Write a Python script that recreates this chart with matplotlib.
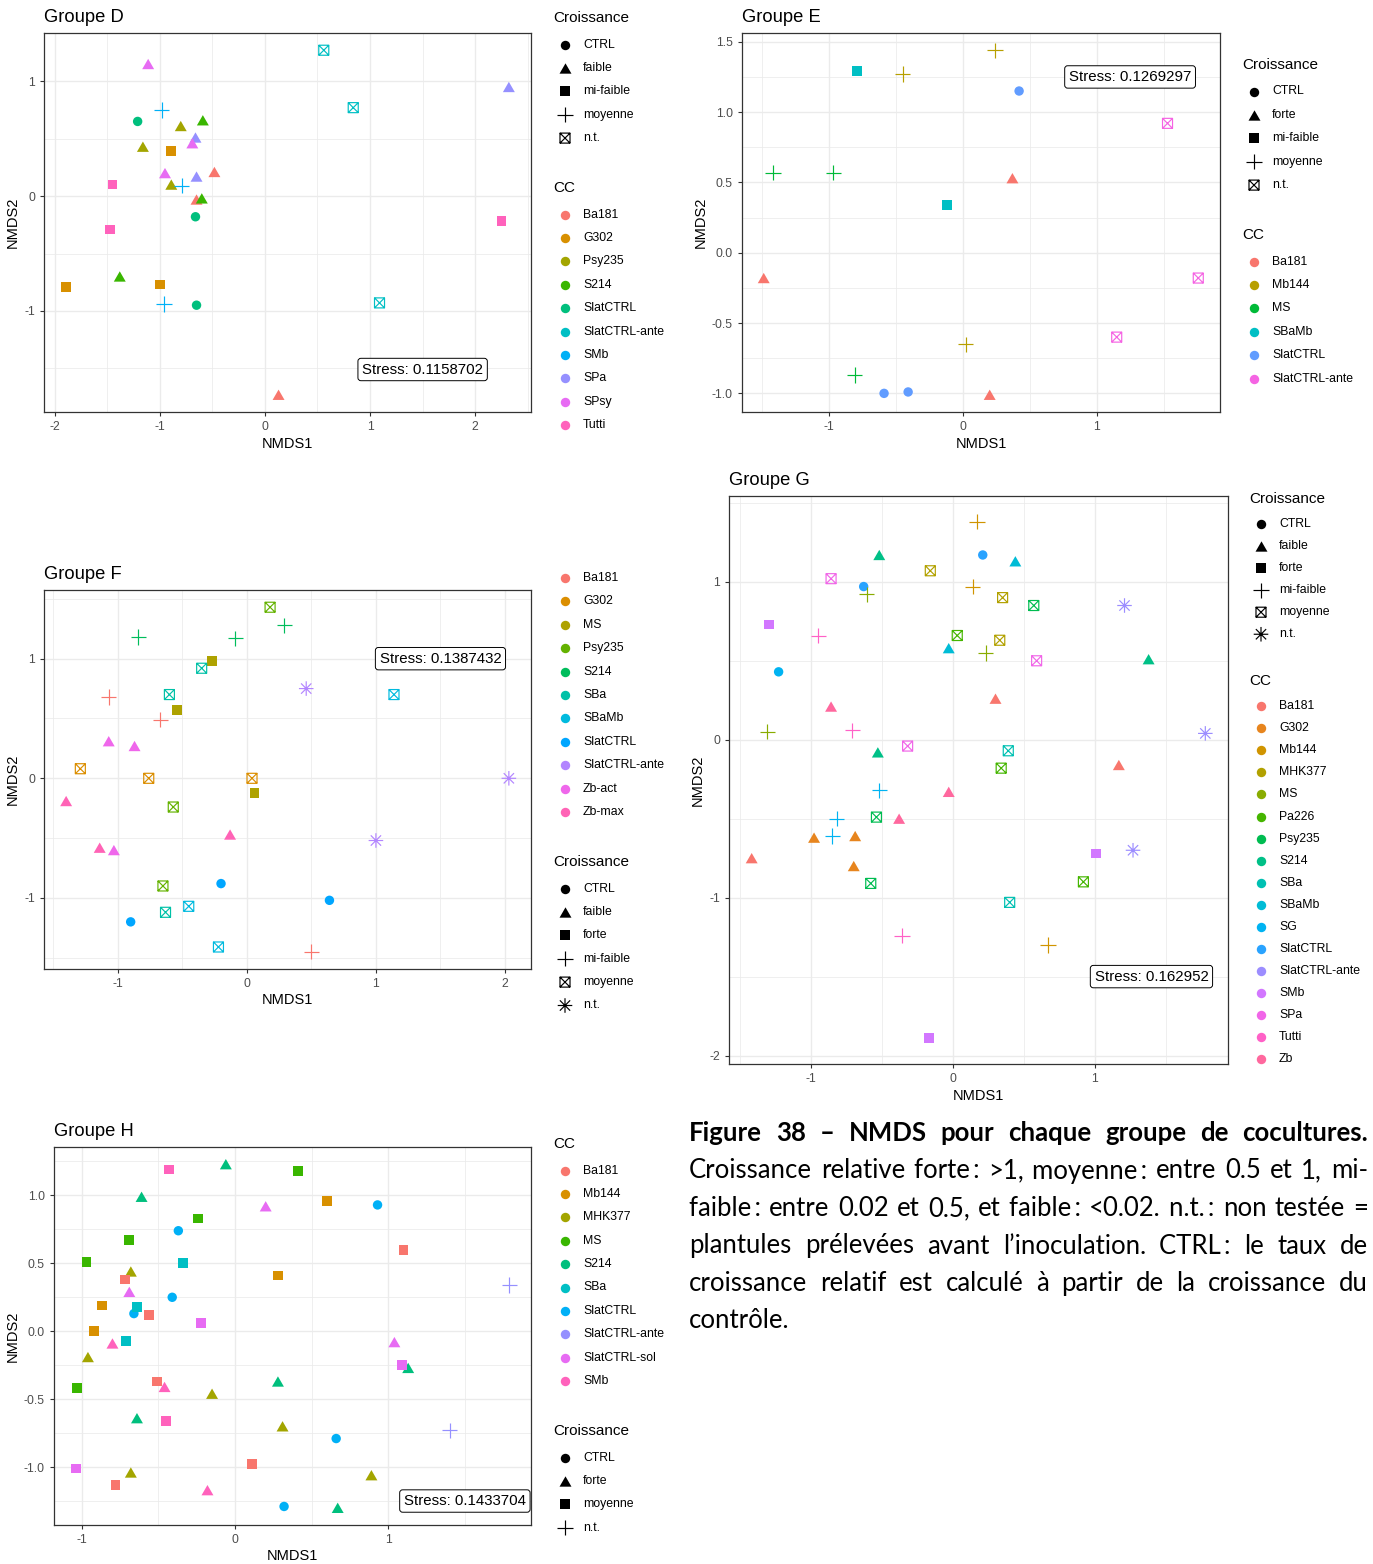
#!/usr/bin/env python
"""NMDS par groupe de cocultures (groupes D a H) + legende de la figure 38."""
import matplotlib

matplotlib.use("Agg")
import matplotlib.pyplot as plt
import numpy as np
from matplotlib.path import Path
from matplotlib.ticker import FormatStrFormatter, MultipleLocator

W, H = 1373, 1564
plt.rcParams["font.family"] = ["Liberation Sans", "DejaVu Sans"]
plt.rcParams["axes.unicode_minus"] = False

# ---------------- Groupe D ----------------
D_cc_levels = ["Ba181", "G302", "Psy235", "S214", "SlatCTRL", "SlatCTRL-ante", "SMb", "SPa", "SPsy", "Tutti"]
D_gr_levels = ["CTRL", "faible", "mi-faible", "moyenne", "n.t."]
D_x = [0.56, 0.84, 1.09, 2.32, -1.11, -0.98, -1.21, -0.80, -0.59, -0.66, -0.69, -1.16, -0.89, -0.95, -0.48,
       -0.65, -1.45, -0.89, -0.79, -0.65, -0.60, -0.66, -1.47, 2.25, -1.89, -1.38, -1.00, -0.96, -0.65, 0.13]
D_y = [1.27, 0.77, -0.93, 0.95, 1.15, 0.75, 0.65, 0.61, 0.66, 0.51, 0.46, 0.43, 0.39, 0.20, 0.21,
       0.17, 0.10, 0.10, 0.09, -0.03, -0.02, -0.18, -0.29, -0.22, -0.79, -0.70, -0.77, -0.94, -0.95, -1.73]
D_cc = ["SlatCTRL-ante", "SlatCTRL-ante", "SlatCTRL-ante", "SPa", "SPsy", "SMb", "SlatCTRL", "Psy235", "S214",
        "SPa", "SPsy", "Psy235", "G302", "SPsy", "Ba181", "SPa", "Tutti", "Psy235", "SMb", "Ba181", "S214",
        "SlatCTRL", "Tutti", "Tutti", "G302", "S214", "G302", "SMb", "SlatCTRL", "Ba181"]
D_gr = ["n.t.", "n.t.", "n.t.", "faible", "faible", "moyenne", "CTRL", "faible", "faible", "faible", "faible",
        "faible", "mi-faible", "faible", "faible", "faible", "mi-faible", "faible", "moyenne", "faible", "faible",
        "CTRL", "mi-faible", "mi-faible", "mi-faible", "faible", "mi-faible", "moyenne", "CTRL", "faible"]
D_stress = ("Stress: 0.1158702", 1.50, -1.51)

# ---------------- Groupe E ----------------
E_cc_levels = ["Ba181", "Mb144", "MS", "SBaMb", "SlatCTRL", "SlatCTRL-ante"]
E_gr_levels = ["CTRL", "forte", "mi-faible", "moyenne", "n.t."]
E_x = [0.24, -0.79, -0.45, 0.42, 1.53, -1.42, -0.97, 0.37, -0.12, -1.49, 1.76, 1.15, 0.02, -0.81, -0.59, -0.41, 0.20]
E_y = [1.44, 1.29, 1.27, 1.15, 0.92, 0.57, 0.57, 0.53, 0.34, -0.18, -0.18, -0.60, -0.65, -0.87, -1.00, -0.99, -1.01]
E_cc = ["Mb144", "SBaMb", "Mb144", "SlatCTRL", "SlatCTRL-ante", "MS", "MS", "Ba181", "SBaMb", "Ba181",
        "SlatCTRL-ante", "SlatCTRL-ante", "Mb144", "MS", "SlatCTRL", "SlatCTRL", "Ba181"]
E_gr = ["moyenne", "mi-faible", "moyenne", "CTRL", "n.t.", "moyenne", "moyenne", "forte", "mi-faible", "forte",
        "n.t.", "n.t.", "moyenne", "moyenne", "CTRL", "CTRL", "forte"]
E_stress = ("Stress: 0.1269297", 1.25, 1.25)

# ---------------- Groupe F ----------------
F_cc_levels = ["Ba181", "G302", "MS", "Psy235", "S214", "SBa", "SBaMb", "SlatCTRL", "SlatCTRL-ante", "Zb-act", "Zb-max"]
F_gr_levels = ["CTRL", "faible", "forte", "mi-faible", "moyenne", "n.t."]
F_x = [0.18, 0.29, -0.84, -0.09, -0.27, -0.35, 0.46, -0.60, 1.14, -1.07, -0.54, -0.67, -1.07, -0.87, -1.29, -0.76,
       0.04, 2.03, 0.06, -1.40, -0.57, -0.13, 1.00, -1.14, -1.03, -0.20, -0.65, 0.64, -0.45, -0.63, -0.90, -0.22, 0.50]
F_y = [1.43, 1.28, 1.18, 1.17, 0.98, 0.92, 0.75, 0.70, 0.70, 0.68, 0.57, 0.49, 0.31, 0.27, 0.08, 0.00,
       0.00, 0.00, -0.12, -0.19, -0.24, -0.47, -0.52, -0.58, -0.60, -0.88, -0.90, -1.02, -1.07, -1.12, -1.20, -1.41, -1.45]
F_cc = ["Psy235", "S214", "S214", "S214", "MS", "SBa", "SlatCTRL-ante", "SBa", "SBaMb", "Ba181", "MS", "Ba181",
        "Zb-act", "Zb-act", "G302", "G302", "G302", "SlatCTRL-ante", "MS", "Zb-max", "Psy235", "Zb-max",
        "SlatCTRL-ante", "Zb-max", "Zb-act", "SlatCTRL", "Psy235", "SlatCTRL", "SBaMb", "SBa", "SlatCTRL",
        "SBaMb", "Ba181"]
F_gr = ["moyenne", "mi-faible", "mi-faible", "mi-faible", "forte", "moyenne", "n.t.", "moyenne", "moyenne",
        "mi-faible", "forte", "mi-faible", "faible", "faible", "moyenne", "moyenne", "moyenne", "n.t.", "forte",
        "faible", "moyenne", "faible", "n.t.", "faible", "faible", "CTRL", "moyenne", "CTRL", "moyenne", "moyenne",
        "CTRL", "moyenne", "mi-faible"]
F_stress = ("Stress: 0.1387432", 1.50, 1.00)

# ---------------- Groupe G ----------------
G_cc_levels = ["Ba181", "G302", "Mb144", "MHK377", "MS", "Pa226", "Psy235", "S214", "SBa", "SBaMb", "SG",
               "SlatCTRL", "SlatCTRL-ante", "SMb", "SPa", "Tutti", "Zb"]
G_gr_levels = ["CTRL", "faible", "forte", "mi-faible", "moyenne", "n.t."]
G_x = [0.17, -0.52, 0.21, 0.44, -0.16, -0.86, -0.63, -0.61, 0.14, 0.35, 0.57, 1.21, -1.30, -0.95, 0.03, 0.33,
       -0.03, 0.23, 0.59, 1.38, -1.23, -0.86, 0.30, -1.31, -0.71, 1.78, -0.32, 0.39, -0.53, 0.34, 1.17, -0.52,
       -0.03, -0.54, -0.38, -0.82, -0.98, -0.85, -0.69, 1.01, 1.27, -1.42, -0.70, -0.58, 0.92, 0.40, -0.36,
       0.67, -0.17]
G_y = [1.38, 1.17, 1.17, 1.13, 1.07, 1.02, 0.97, 0.92, 0.97, 0.90, 0.85, 0.85, 0.73, 0.66, 0.66, 0.63,
       0.58, 0.55, 0.50, 0.51, 0.43, 0.21, 0.26, 0.05, 0.06, 0.04, -0.04, -0.07, -0.08, -0.18, -0.16, -0.32,
       -0.33, -0.49, -0.50, -0.50, -0.62, -0.61, -0.61, -0.72, -0.70, -0.75, -0.80, -0.91, -0.90, -1.03, -1.24,
       -1.30, -1.89]
G_cc = ["Mb144", "S214", "SlatCTRL", "SBaMb", "MHK377", "SPa", "SlatCTRL", "MS", "Mb144", "MHK377", "Psy235",
        "SlatCTRL-ante", "SMb", "Tutti", "Pa226", "MHK377", "SBaMb", "MS", "SPa", "S214", "SG", "Zb", "Ba181",
        "MS", "Tutti", "SlatCTRL-ante", "SPa", "SBa", "S214", "Pa226", "Ba181", "SG", "Zb", "Psy235", "Zb", "SG",
        "G302", "SG", "G302", "SMb", "SlatCTRL-ante", "Ba181", "G302", "Psy235", "Pa226", "SBa", "Tutti",
        "Mb144", "SMb"]
G_gr = ["mi-faible", "faible", "CTRL", "faible", "moyenne", "moyenne", "CTRL", "mi-faible", "mi-faible",
        "moyenne", "moyenne", "n.t.", "forte", "mi-faible", "moyenne", "moyenne", "faible", "mi-faible", "moyenne",
        "faible", "CTRL", "faible", "faible", "mi-faible", "mi-faible", "n.t.", "moyenne", "moyenne", "faible",
        "moyenne", "faible", "mi-faible", "faible", "moyenne", "faible", "mi-faible", "faible", "mi-faible",
        "faible", "forte", "n.t.", "faible", "faible", "moyenne", "moyenne", "moyenne", "mi-faible", "mi-faible",
        "forte"]
G_stress = ("Stress: 0.162952", 1.40, -1.50)

# ---------------- Groupe H ----------------
H_cc_levels = ["Ba181", "Mb144", "MHK377", "MS", "S214", "SBa", "SlatCTRL", "SlatCTRL-ante", "SlatCTRL-sol", "SMb"]
H_gr_levels = ["CTRL", "forte", "moyenne", "n.t."]
H_x = [-0.06, -0.43, 0.41, -0.61, 0.60, 0.20, 0.93, -0.24, -0.37, -0.69, 1.10, -0.97, -0.34, -0.68, 0.28, -0.72,
       1.79, -0.69, -0.41, -0.87, -0.64, -0.66, -0.56, -0.22, -0.92, -0.71, -0.80, 1.04, -0.96, 1.09, 1.13,
       -0.51, -0.46, 0.28, -1.03, -0.15, -0.64, -0.45, 0.31, 1.40, 0.66, 0.11, -1.04, -0.68, 0.89, -0.78,
       -0.18, 0.32, 0.67]
H_y = [1.23, 1.19, 1.18, 0.99, 0.96, 0.92, 0.93, 0.83, 0.74, 0.67, 0.60, 0.51, 0.50, 0.44, 0.41, 0.38,
       0.34, 0.29, 0.25, 0.19, 0.18, 0.13, 0.12, 0.06, 0.00, -0.07, -0.09, -0.08, -0.19, -0.25, -0.27,
       -0.37, -0.41, -0.37, -0.42, -0.46, -0.64, -0.66, -0.70, -0.73, -0.79, -0.98, -1.01, -1.04, -1.06, -1.13,
       -1.17, -1.29, -1.30]
H_cc = ["S214", "SMb", "MS", "S214", "Mb144", "SlatCTRL-sol", "SlatCTRL", "MS", "SlatCTRL", "MS", "Ba181", "MS",
        "SBa", "MHK377", "Mb144", "Ba181", "SlatCTRL-ante", "SlatCTRL-sol", "SlatCTRL", "Mb144", "SBa",
        "SlatCTRL", "Ba181", "SlatCTRL-sol", "Mb144", "SBa", "SMb", "SlatCTRL-sol", "MHK377", "SlatCTRL-sol",
        "S214", "Ba181", "SMb", "S214", "MS", "MHK377", "S214", "SMb", "MHK377", "SlatCTRL-ante", "SlatCTRL",
        "Ba181", "SlatCTRL-sol", "MHK377", "MHK377", "Ba181", "SMb", "SlatCTRL", "S214"]
H_gr = ["forte", "moyenne", "moyenne", "forte", "moyenne", "forte", "CTRL", "moyenne", "CTRL", "moyenne",
        "moyenne", "moyenne", "moyenne", "forte", "moyenne", "moyenne", "n.t.", "forte", "CTRL", "moyenne",
        "moyenne", "CTRL", "moyenne", "moyenne", "moyenne", "moyenne", "forte", "forte", "forte", "moyenne",
        "forte", "moyenne", "forte", "forte", "moyenne", "forte", "forte", "moyenne", "forte", "n.t.", "CTRL",
        "moyenne", "moyenne", "forte", "forte", "moyenne", "forte", "CTRL", "forte"]
H_stress = ("Stress: 0.1433704", 1.50, -1.25)

CAPTION = [
    "Figure 38 \u2013 NMDS pour chaque groupe de cocultures.",
    "Croissance relative forte\u2009: >1, moyenne\u2009: entre 0.5 et 1, mi-",
    "faible\u2009: entre 0.02 et 0.5, et faible\u2009: <0.02. n.t.\u2009: non testée =",
    "plantules prélevées avant l\u2019inoculation. CTRL\u2009: le taux de",
    "croissance relatif est calculé à partir de la croissance du",
    "contrôle.",
]

# ggplot shapes 16, 17, 15, 3, 7, 8 (in level order)
MV, LN, CL = Path.MOVETO, Path.LINETO, Path.CLOSEPOLY
TRI = Path([(-1, -0.866), (1, -0.866), (0, 0.866), (-1, -0.866)], [MV, LN, LN, CL])
PLUS = Path([(0, -1), (0, 1), (-1, 0), (1, 0)], [MV, LN, MV, LN])
BOXX = Path([(-1, -1), (1, -1), (1, 1), (-1, 1), (-1, -1), (-1, -1), (1, 1), (-1, 1), (1, -1)],
            [MV, LN, LN, LN, CL, MV, LN, MV, LN])
_d = 0.7071
ASTER = Path([(0, -1), (0, 1), (-1, 0), (1, 0), (-_d, -_d), (_d, _d), (-_d, _d), (_d, -_d)],
             [MV, LN, MV, LN, MV, LN, MV, LN])
SHAPES = [("o", 46, True), (TRI, 74, True), ("s", 49, True),
          (PLUS, 121, False), (BOXX, 52, False), (ASTER, 110, False)]


def hue_pal(n):
    """ggplot2 default discrete palette: hcl(h, c=100, l=65)."""
    M = np.array([[3.240479, -1.537150, -0.498535],
                  [-0.969256, 1.875992, 0.041556],
                  [0.055648, -0.204043, 1.057311]])
    out = []
    for h in np.linspace(15, 375, n + 1)[:-1]:
        L, C = 65.0, 100.0
        u, v = C * np.cos(np.deg2rad(h)), C * np.sin(np.deg2rad(h))
        Y = ((L + 16) / 116) ** 3
        up = u / (13 * L) + 0.1978398
        vp = v / (13 * L) + 0.4683363
        X = Y * 9 * up / (4 * vp)
        Z = Y * (12 - 3 * up - 20 * vp) / (4 * vp)
        rgb = M @ np.array([X, Y, Z])
        rgb = np.where(rgb <= 0.0031308, 12.92 * rgb, 1.055 * np.abs(rgb) ** (1 / 2.4) - 0.055)
        out.append(tuple(float(c) for c in np.clip(rgb, 0, 1)))
    return out


def put(ax, xs, ys, shape, colors, **kw):
    m, s, filled = SHAPES[shape]
    if filled:
        ax.scatter(xs, ys, marker=m, s=s, c=colors, linewidths=0, **kw)
    else:
        ax.scatter(xs, ys, marker=m, s=s, facecolors="none", edgecolors=colors, linewidths=0.85, **kw)


fig = plt.figure(figsize=(W / 100, H / 100), dpi=100)
fig.patch.set_facecolor("white")
lax = fig.add_axes([0, 0, 1, 1])
lax.set_xlim(0, W)
lax.set_ylim(H, 0)
lax.set_axis_off()


def panel(box, title, xs, ys, ccs, grs, cc_levels, gr_levels, stress, step, fmt):
    l, t, r, b = box
    ax = fig.add_axes([l / W, 1 - b / H, (r - l) / W, (b - t) / H])
    pal = dict(zip(cc_levels, hue_pal(len(cc_levels))))
    for gi, g in enumerate(gr_levels):
        sel = [i for i, v in enumerate(grs) if v == g]
        if sel:
            put(ax, [xs[i] for i in sel], [ys[i] for i in sel], gi, [pal[ccs[i]] for i in sel], zorder=3)
    ax.margins(0.05)
    ax.xaxis.set_major_locator(MultipleLocator(1))
    ax.xaxis.set_minor_locator(MultipleLocator(0.5))
    ax.yaxis.set_major_locator(MultipleLocator(step))
    ax.yaxis.set_minor_locator(MultipleLocator(step / 2))
    ax.xaxis.set_major_formatter(FormatStrFormatter("%d"))
    ax.yaxis.set_major_formatter(FormatStrFormatter(fmt))
    ax.grid(which="major", color="#EBEBEB", lw=1.0)
    ax.grid(which="minor", color="#EBEBEB", lw=0.55)
    ax.set_axisbelow(True)
    ax.tick_params(which="major", length=3, width=0.8, color="#333333", labelsize=8.8,
                   labelcolor="#4D4D4D", pad=3.5)
    ax.tick_params(which="minor", length=0)
    for sp in ax.spines.values():
        sp.set_color("#333333")
        sp.set_linewidth(0.9)
    ax.set_xlabel("NMDS1", fontsize=10.5, labelpad=2.5)
    ax.set_ylabel("NMDS2", fontsize=10.5, labelpad=3)
    ax.set_title(title, loc="left", fontsize=13.2, pad=8)
    txt, sx, sy = stress
    ax.text(sx, sy, txt, ha="center", va="center", fontsize=10.8, zorder=5,
            bbox=dict(boxstyle="round,pad=0.28,rounding_size=0.2", fc="white", ec="black", lw=0.7))
    return pal


def legend(x0, y0, blocks, step, head=26.5, sep=50, show_first_title=True):
    y = y0
    for k, (title, labels, pal) in enumerate(blocks):
        if show_first_title or k > 0:
            lax.text(x0, y, title, fontsize=11, va="center", ha="left")
        for i, lab in enumerate(labels):
            yy = y + head + i * step
            if pal is None:
                put(lax, [x0 + 12], [yy], i, ["black"], clip_on=False)
            else:
                put(lax, [x0 + 12], [yy], 0, [pal[lab]], clip_on=False)
            lax.text(x0 + 30, yy, lab, fontsize=8.8, va="center", ha="left")
        y = yy + sep


pD = panel((44, 33, 531, 412), "Groupe D", D_x, D_y, D_cc, D_gr, D_cc_levels, D_gr_levels, D_stress, 1, "%d")
legend(553, 18, [("Croissance", D_gr_levels, None), ("CC", D_cc_levels, pD)], 23.4)

pE = panel((742, 33, 1220, 412), "Groupe E", E_x, E_y, E_cc, E_gr, E_cc_levels, E_gr_levels, E_stress, 0.5, "%.1f")
legend(1242, 65, [("Croissance", E_gr_levels, None), ("CC", E_cc_levels, pE)], 23.4)

pF = panel((44, 590, 531, 969), "Groupe F", F_x, F_y, F_cc, F_gr, F_cc_levels, F_gr_levels, F_stress, 1, "%d")
legend(553, 551.5, [("CC", F_cc_levels, pF), ("Croissance", F_gr_levels, None)], 23.4, show_first_title=False)

pG = panel((729, 496, 1228, 1064), "Groupe G", G_x, G_y, G_cc, G_gr, G_cc_levels, G_gr_levels, G_stress, 1, "%d")
legend(1249, 499, [("Croissance", G_gr_levels, None), ("CC", G_cc_levels, pG)], 22.05, head=25, sep=47)

pH = panel((54, 1147, 531, 1525), "Groupe H", H_x, H_y, H_cc, H_gr, H_cc_levels, H_gr_levels, H_stress, 0.5, "%.1f")
legend(553, 1144, [("CC", H_cc_levels, pH), ("Croissance", H_gr_levels, None)], 23.4)

# justified caption
renderer = fig.canvas.get_renderer()
cx0, cx1 = 689, 1368
cap_font = ["Lato", "DejaVu Sans"]
cap_size = 18.5
for i, line in enumerate(CAPTION):
    yb = 1141 + 37.5 * i
    weight = "bold" if i == 0 else "normal"
    if i == len(CAPTION) - 1:
        lax.text(cx0, yb, line, fontsize=cap_size, family=cap_font, weight=weight, va="baseline")
        continue
    words = line.split(" ")
    arts = [lax.text(0, yb, w, fontsize=cap_size, family=cap_font, weight=weight, va="baseline") for w in words]
    widths = [a.get_window_extent(renderer).width for a in arts]
    gap = (cx1 - cx0 - sum(widths)) / (len(words) - 1)
    x = cx0
    for a, w in zip(arts, widths):
        a.set_x(x)
        x += w + gap

fig.savefig("out.png", dpi=100)
